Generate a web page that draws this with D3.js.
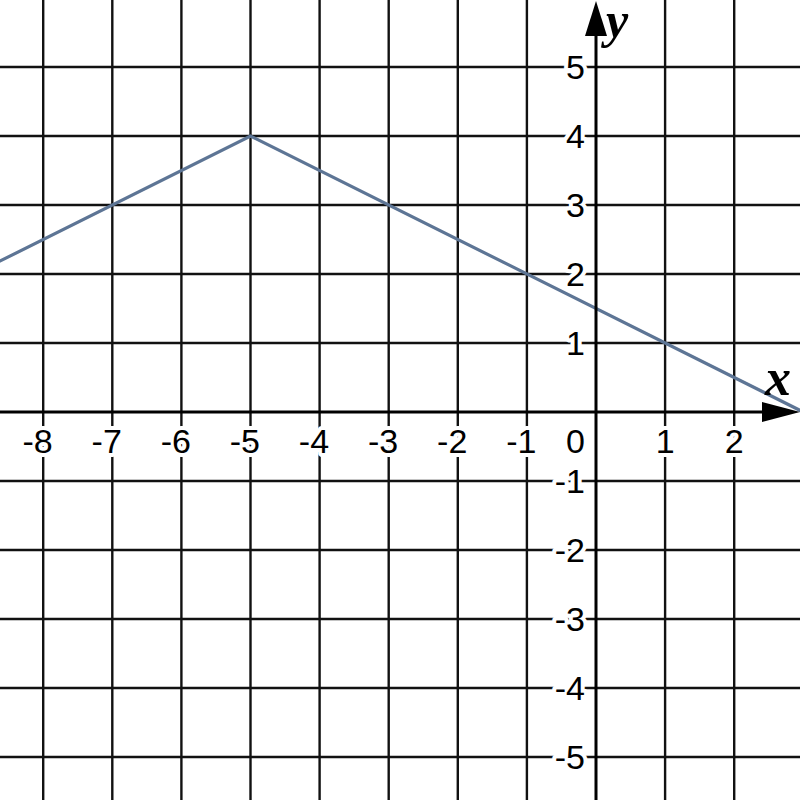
<!DOCTYPE html>
<html>
<head>
<meta charset="utf-8">
<script src="https://cdn.jsdelivr.net/npm/d3@7"></script>
<style>
html,body{margin:0;padding:0;background:#fff;}
svg{display:block;}
</style>
</head>
<body>
<svg id="chart" width="800" height="800"></svg>
<script>
// Data
const linePoints = [[-9, 2], [-5, 4], [3, 0]];
const xGrid = [-8, -7, -6, -5, -4, -3, -2, -1, 0, 1, 2];
const yGrid = [-5, -4, -3, -2, -1, 0, 1, 2, 3, 4, 5];
const xTickLabels = [-8, -7, -6, -5, -4, -3, -2, -1, 1, 2];
const yTickLabels = [5, 4, 3, 2, 1, -1, -2, -3, -4, -5];
const originLabel = "0";
const xAxisLabel = "x";
const yAxisLabel = "y";

const W = 800, H = 800;
const unit = 69.1;
const x = d3.scaleLinear().domain([-9, 3]).range([596 - 9 * unit, 596 + 3 * unit]);
const y = d3.scaleLinear().domain([-6, 6]).range([412 + 6 * 69, 412 - 6 * 69]);

const svg = d3.select("#chart");
svg.append("rect").attr("width", W).attr("height", H).attr("fill", "#fff");

// grid
const g = svg.append("g").attr("stroke", "#111").attr("stroke-width", 2.4);
g.selectAll("line.v").data(xGrid.filter(d => d !== 0)).join("line")
  .attr("x1", d => x(d)).attr("x2", d => x(d)).attr("y1", 0).attr("y2", H);
g.selectAll("line.h").data(yGrid.filter(d => d !== 0)).join("line")
  .attr("y1", d => y(d)).attr("y2", d => y(d)).attr("x1", 0).attr("x2", W);

// graph line
svg.append("path").datum(linePoints)
  .attr("fill", "none").attr("stroke", "#5d7595").attr("stroke-width", 3.2)
  .attr("d", d3.line().x(d => x(d[0])).y(d => y(d[1])));

// axes
const ax = svg.append("g").attr("stroke", "#000").attr("stroke-width", 3);
ax.append("line").attr("x1", 0).attr("x2", W - 36).attr("y1", y(0)).attr("y2", y(0));
ax.append("line").attr("x1", x(0)).attr("x2", x(0)).attr("y1", H).attr("y2", 34);
// arrows
svg.append("path").attr("fill", "#000")
  .attr("d", `M${W},${y(0)} L${W - 38},${y(0) - 10} L${W - 38},${y(0) + 10} Z`);
svg.append("path").attr("fill", "#000")
  .attr("d", `M${x(0)},1 L${x(0) - 11},36 L${x(0) + 11},36 Z`);

// labels
const font = "'Liberation Sans', Arial, sans-serif";
const lab = svg.append("g").attr("font-family", font).attr("font-size", 34)
  .attr("fill", "#000").attr("stroke", "#fff").attr("stroke-width", 8)
  .attr("stroke-linejoin", "round").attr("paint-order", "stroke");

lab.selectAll("text.xl").data(xTickLabels).join("text")
  .attr("x", d => x(d) + 9.5).attr("y", y(0) + 41)
  .attr("text-anchor", "end").text(d => d);

lab.selectAll("text.yl").data(yTickLabels).join("text")
  .attr("x", x(0) - 11).attr("y", d => y(d) + 12)
  .attr("text-anchor", "end").text(d => d);

lab.append("text").attr("x", x(0) - 11).attr("y", y(0) + 41)
  .attr("text-anchor", "end").text(originLabel);

const serif = "'Liberation Serif', 'Times New Roman', serif";
svg.append("text").attr("x", 606).attr("y", 37)
  .attr("font-family", serif).attr("font-style", "italic").attr("font-weight", "bold")
  .attr("font-size", 50).attr("fill", "#000").text(yAxisLabel);
svg.append("text").attr("x", 765).attr("y", 395)
  .attr("font-family", serif).attr("font-style", "italic").attr("font-weight", "bold")
  .attr("font-size", 52).attr("fill", "#000").text(xAxisLabel);
</script>
</body>
</html>
